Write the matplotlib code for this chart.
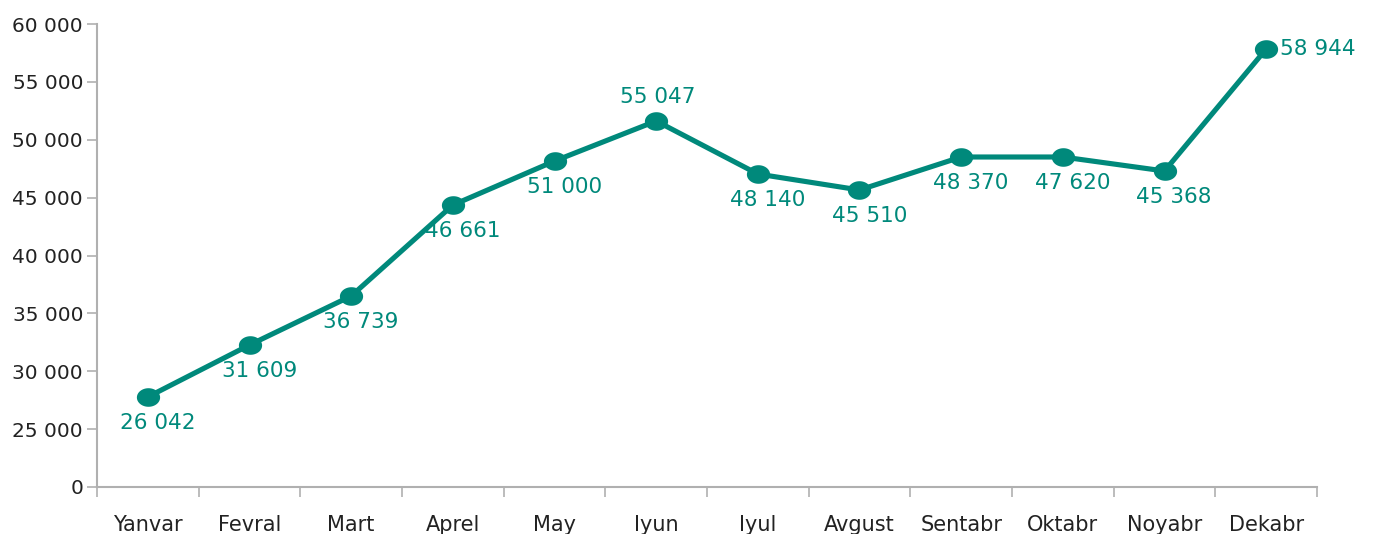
import matplotlib
matplotlib.use("Agg")
import matplotlib.pyplot as plt
import numpy as np
from matplotlib.path import Path
from matplotlib.ticker import FixedLocator, FixedFormatter

months = ["Yanvar", "Fevral", "Mart", "Aprel", "May", "Iyun",
          "Iyul", "Avgust", "Sentabr", "Oktabr", "Noyabr", "Dekabr"]
# position of each point as read on the drawn axis
plotted = [27780, 32270, 36500, 44360, 48160, 51620,
           47040, 45660, 48510, 48510, 47300, 57840]
# value written next to each point
labels = ["26 042", "31 609", "36 739", "46 661", "51 000", "55 047",
          "48 140", "45 510", "48 370", "47 620", "45 368", "58 944"]
ytick_values = [20000, 25000, 30000, 35000, 40000, 45000, 50000, 55000, 60000]
ytick_labels = ["0", "25 000", "30 000", "35 000", "40 000",
                "45 000", "50 000", "55 000", "60 000"]

teal = "#00897b"
plt.rcParams["font.family"] = ["DejaVu Sans"]

# slightly flattened ellipse marker
t = np.linspace(0, 2 * np.pi, 60)
ellipse = Path(np.column_stack([np.cos(t), 0.8 * np.sin(t)]), closed=True)

fig = plt.figure(figsize=(13.92, 5.34), dpi=100)
ax = fig.add_axes([97 / 1392, 1 - 487 / 534, (1317 - 97) / 1392, (487 - 24) / 534])

x = [i + 0.5 for i in range(len(months))]
ax.plot(x, plotted, color=teal, lw=3.7, solid_capstyle="round", zorder=2)
ax.scatter(x, plotted, s=280, marker=ellipse, color=teal, zorder=3, linewidths=0)

for i, (xi, yi, lab) in enumerate(zip(x, plotted, labels)):
    if i == 5:
        ax.annotate(lab, (xi, yi), xytext=(1, 17), textcoords="offset points",
                    ha="center", va="center", color=teal, fontsize=15.5)
    elif i == len(months) - 1:
        ax.annotate(lab, (xi, yi), xytext=(10, 0), textcoords="offset points",
                    ha="left", va="center", color=teal, fontsize=15.5)
    else:
        ax.annotate(lab, (xi, yi), xytext=(7, -19), textcoords="offset points",
                    ha="center", va="center", color=teal, fontsize=15.5)

ax.set_xlim(0, len(months))
ax.set_ylim(20000, 60000)
ax.xaxis.set_major_locator(FixedLocator(list(range(len(months) + 1))))
ax.xaxis.set_major_formatter(FixedFormatter([""] * (len(months) + 1)))
ax.xaxis.set_minor_locator(FixedLocator(x))
ax.xaxis.set_minor_formatter(FixedFormatter(months))
ax.tick_params(axis="x", which="minor", length=0, pad=20, labelsize=15,
               labelcolor="#222222")
ax.tick_params(axis="x", which="major", length=7, width=1.2, color="#b0b0b0",
               direction="out")
ax.yaxis.set_major_locator(FixedLocator(ytick_values))
ax.yaxis.set_major_formatter(FixedFormatter(ytick_labels))
ax.tick_params(axis="y", length=7, width=1.2, color="#b0b0b0", labelsize=14.5,
               labelcolor="#222222", pad=3)

for side in ["top", "right"]:
    ax.spines[side].set_visible(False)
for side in ["left", "bottom"]:
    ax.spines[side].set_color("#b0b0b0")
    ax.spines[side].set_linewidth(1.5)

fig.savefig("out.png", dpi=100)
